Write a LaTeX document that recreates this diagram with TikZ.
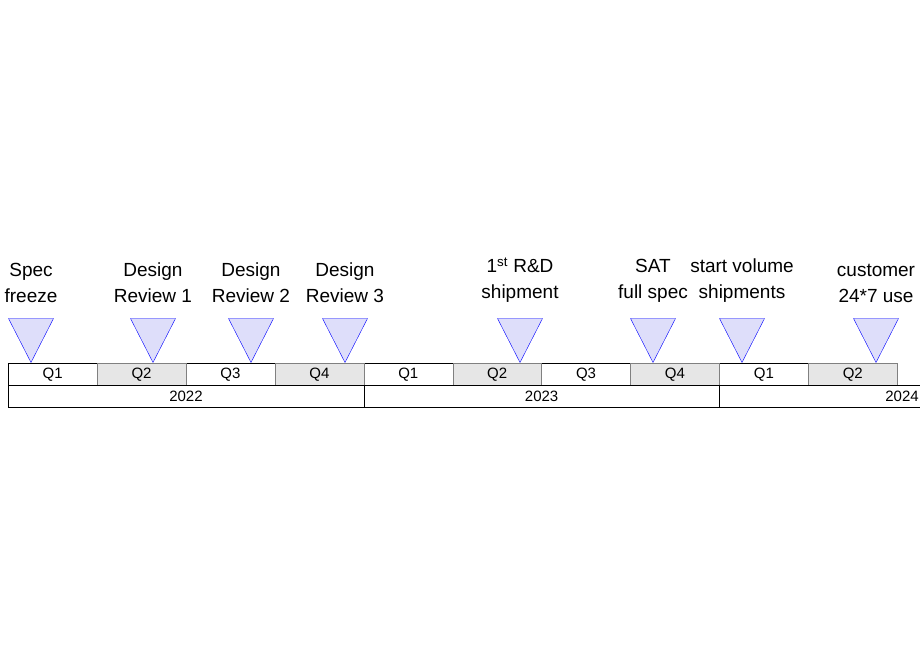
\documentclass[tikz,border=0pt]{standalone}
\usepackage{fontspec}
\setmainfont{Liberation Sans}
\usetikzlibrary{shapes.geometric}
\definecolor{milefill}{RGB}{222,222,250}
\definecolor{qgray}{RGB}{230,230,230}
\begin{document}
\begin{tikzpicture}[x=1pt,y=-1pt,
milestone/.style={isosceles triangle, shape border rotate=-90, isosceles triangle stretches, draw=blue, fill=milefill, minimum width=45, minimum height=44, inner sep=0, anchor=apex},
quarter/.style={rectangle, draw=black, fill=white, minimum width=88.9, minimum height=22, inner sep=0, anchor=north west, font=\fontsize{15}{15}\selectfont},
quartergray/.style={quarter, draw=gray, fill=qgray},
year/.style={rectangle, draw=black, minimum width=355.6, minimum height=22, inner sep=0, anchor=north west, font=\fontsize{15}{15}\selectfont},
mlabel/.style={align=center, font=\fontsize{19}{26}\selectfont, anchor=south}]
\useasboundingbox (0,0) rectangle (920,660);

% quarters
\foreach \i/\q in {0/Q1,2/Q3,4/Q1,6/Q3,8/Q1}
  \node (q\i) [quarter] at (8+88.9*\i, 363) {\q};
\foreach \i/\q in {1/Q2,3/Q4,5/Q2,7/Q4,9/Q2}
  \node (q\i) [quartergray] at (8+88.9*\i, 363) {\q};

% years
\node (y22) [year] at (8, 385) {2022};
\node (y23) [year] at (363.6, 385) {2023};
\node (y24) [year, minimum width=210] at (719.2, 385) {};
\node at (902, 396) {\fontsize{15}{15}\selectfont 2024};

% milestones
\foreach \n/\x/\t in {m1/31/{Spec\\freeze}, m2/153/{Design\\Review 1}, m3/251/{Design\\Review 2}, m4/345/{Design\\Review 3}, m5/520/{1\textsuperscript{st} R\&D\\shipment}, m6/653/{SAT\\full spec}, m7/742/{start volume\\shipments}, m8/876/{customer\\24*7 use}} {
  \node (\n) [milestone] at (\x, 363) {};
  \node (\n t) [mlabel] at (\x, 306) {\t};
}
\end{tikzpicture}
\end{document}
